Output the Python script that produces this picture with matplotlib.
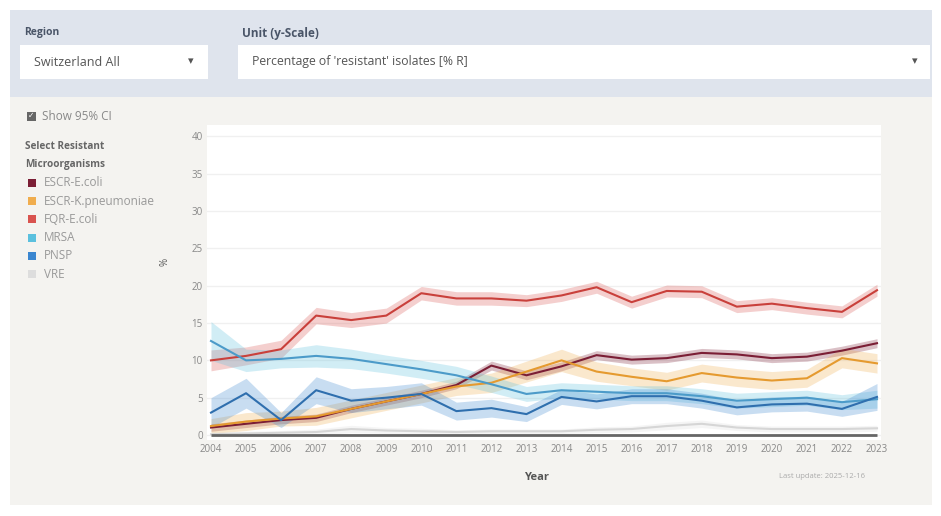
import matplotlib
matplotlib.use("Agg")
import matplotlib.pyplot as plt
from matplotlib.patches import Rectangle

plt.rcParams['font.family'] = ['Open Sans', 'DejaVu Sans']

# data (% resistant isolates, with ~95% CI half widths)
years = list(range(2004, 2024))
names = ['ESCR-E.coli', 'ESCR-K.pneumoniae', 'FQR-E.coli', 'MRSA', 'PNSP', 'VRE']
colors = ['#7b1e35', '#f0ad4e', '#d9534f', '#5bc0de', '#3a86d0', '#dddddd']
line_colors = ['#7b1e35', '#e59a2f', '#c9403b', '#4c9bc9', '#2f6fae', '#d6d6d6']

escr_ecoli = [1.0, 1.5, 2.0, 2.3, 3.5, 4.5, 5.5, 6.7, 9.3, 8.0, 9.2, 10.7, 10.1, 10.3, 11.0, 10.8, 10.3, 10.5, 11.3, 12.3]
escr_ecoli_ci = [0.5, 0.5, 0.5, 0.5, 0.5, 0.5, 0.5, 0.5, 0.6, 0.6, 0.6, 0.6, 0.6, 0.6, 0.6, 0.6, 0.6, 0.6, 0.6, 0.6]
escr_kpn = [1.2, 1.8, 2.2, 2.5, 3.5, 4.5, 5.5, 6.5, 7.0, 8.5, 10.0, 8.5, 7.8, 7.2, 8.3, 7.7, 7.3, 7.6, 10.3, 9.6]
escr_kpn_ci = [1.0, 1.2, 1.0, 1.2, 1.2, 1.2, 1.2, 1.2, 1.3, 1.4, 1.5, 1.3, 1.2, 1.2, 1.2, 1.2, 1.2, 1.2, 1.3, 1.3]
fqr_ecoli = [10.0, 10.6, 11.5, 16.0, 15.4, 16.0, 19.0, 18.3, 18.3, 18.0, 18.7, 19.8, 17.8, 19.3, 19.2, 17.2, 17.6, 17.0, 16.5, 19.4]
fqr_ecoli_ci = [1.4, 1.2, 1.2, 1.1, 1.0, 1.0, 0.9, 0.9, 0.9, 0.8, 0.8, 0.8, 0.8, 0.8, 0.8, 0.8, 0.8, 0.8, 0.8, 0.8]
mrsa = [12.6, 10.0, 10.2, 10.6, 10.2, 9.5, 8.8, 8.0, 6.8, 5.5, 6.0, 5.8, 5.6, 5.6, 5.2, 4.6, 4.8, 5.0, 4.4, 4.8]
mrsa_ci = [2.6, 1.5, 1.2, 1.5, 1.3, 1.2, 1.2, 1.2, 1.1, 1.0, 1.0, 1.0, 1.0, 1.0, 1.0, 1.0, 1.0, 1.0, 1.0, 1.2]
pnsp = [3.0, 5.6, 2.0, 6.0, 4.6, 5.0, 5.5, 3.2, 3.6, 2.8, 5.1, 4.5, 5.2, 5.2, 4.6, 3.7, 4.1, 4.2, 3.5, 5.1]
pnsp_ci = [2.0, 2.0, 1.0, 1.8, 1.6, 1.5, 1.5, 1.2, 1.2, 1.0, 1.0, 1.0, 1.0, 1.0, 1.0, 1.0, 1.0, 1.0, 1.0, 1.8]
vre = [0.1, 0.2, 0.3, 0.4, 0.8, 0.6, 0.5, 0.4, 0.5, 0.5, 0.5, 0.7, 0.8, 1.2, 1.5, 1.0, 0.8, 0.8, 0.8, 0.9]
vre_ci = [0.3, 0.3, 0.3, 0.4, 0.5, 0.4, 0.4, 0.3, 0.3, 0.3, 0.3, 0.4, 0.4, 0.5, 0.5, 0.4, 0.4, 0.4, 0.4, 0.4]

series = [escr_ecoli, escr_kpn, fqr_ecoli, mrsa, pnsp, vre]
cis = [escr_ecoli_ci, escr_kpn_ci, fqr_ecoli_ci, mrsa_ci, pnsp_ci, vre_ci]

W, H = 941, 516
fig = plt.figure(figsize=(W / 100, H / 100), dpi=100)
fig.patch.set_facecolor('white')

def px(x, y):
    return x / W, 1 - y / H

def box(x0, y0, x1, y1, color, z=0):
    fig.patches.append(Rectangle(px(x0, y1), (x1 - x0) / W, (y1 - y0) / H,
                                 transform=fig.transFigure, facecolor=color,
                                 edgecolor='none', zorder=z))

# page panels
box(10, 10, 932, 97, '#dfe4ed')
box(10, 97, 932, 505, '#f4f3f0')
box(20, 45, 208, 79, 'white', 1)
box(238, 45, 930, 79, 'white', 1)

txt = '#4a5568'
fig.text(*px(24, 33), 'Region', fontsize=7.5, fontweight='bold', color=txt, va='center')
fig.text(*px(242, 33), 'Unit (y-Scale)', fontsize=8.5, fontweight='bold', color=txt, va='center')
fig.text(*px(34, 62), 'Switzerland All', fontsize=9, color='#555555', va='center')
fig.text(*px(188, 62), '▾', fontsize=8, color='#555555', va='center')
fig.text(*px(252, 62), "Percentage of 'resistant' isolates [% R]", fontsize=8.8, color='#555555', va='center')
fig.text(*px(912, 62), '▾', fontsize=8, color='#555555', va='center')

# left controls
box(27, 112, 36, 121, '#666666', 2)
fig.text(*px(31.5, 116.5), '✓', fontsize=5.5, color='white', ha='center', va='center', zorder=3)
fig.text(*px(42, 117), 'Show 95% CI', fontsize=8.5, color='#888888', va='center')
fig.text(*px(25, 146), 'Select Resistant', fontsize=7.2, fontweight='bold', color='#666666', va='center')
fig.text(*px(25, 164), 'Microorganisms', fontsize=7.2, fontweight='bold', color='#666666', va='center')
for i, (n, c) in enumerate(zip(names, colors)):
    y = 183 + i * 18.2
    box(28, y - 4, 36, y + 4, c, 2)
    fig.text(*px(44, y), n, fontsize=8.5, color='#999999', va='center')

# chart
ax = fig.add_axes([207 / W, 1 - 440 / H, 674 / W, 315 / H])
ax.set_zorder(5)
ax.set_facecolor('white')
for s, ci, c, lc in zip(series, cis, colors, line_colors):
    lo = [v - h for v, h in zip(s, ci)]
    hi = [v + h for v, h in zip(s, ci)]
    ax.fill_between(years, lo, hi, color=c, alpha=0.28, linewidth=0)
    ax.plot(years, s, color=lc, linewidth=1.5, solid_joinstyle='round')

ax.set_xlim(2003.886, 2023.114)
ax.set_ylim(-0.67, 41.54)
ax.set_yticks(range(0, 41, 5))
ax.set_xticks(years)
ax.tick_params(length=0, labelsize=7, colors='#888888', pad=3)
ax.grid(axis='y', color='#f0f0f0', linewidth=1)
ax.set_axisbelow(True)
for sp in ['top', 'right', 'left', 'bottom']:
    ax.spines[sp].set_visible(False)
ax.plot([2004, 2023], [0, 0], color='#666666', linewidth=2, solid_capstyle='butt', zorder=5)

fig.text(*px(165, 262), '%', fontsize=7, color='#555555', rotation=90, ha='center', va='center')
fig.text(*px(537, 478), 'Year', fontsize=8, fontweight='bold', color='#555555', ha='center', va='center')
fig.text(*px(822, 477), 'Last update: 2025-12-16', fontsize=5.5, color='#aaaaaa', ha='center', va='center')

plt.savefig('out.png', dpi=100, facecolor=fig.get_facecolor())
